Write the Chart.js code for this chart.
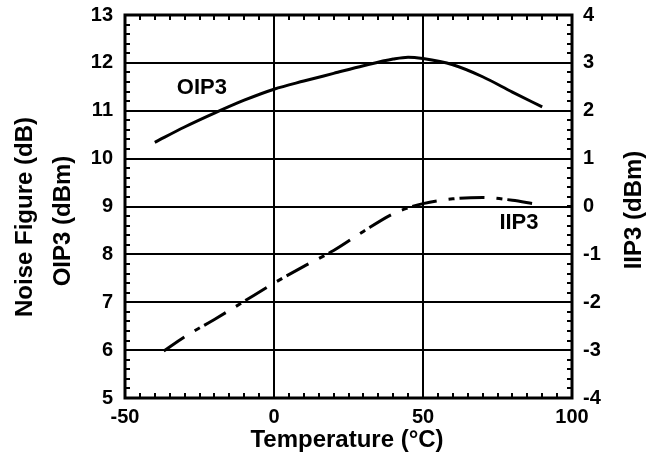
<!DOCTYPE html>
<html><head><meta charset="utf-8">
<script src="https://cdn.jsdelivr.net/npm/chart.js@4.4.0/dist/chart.umd.min.js"></script>
<style>html,body{margin:0;padding:0;background:#fff}#wrap{width:654px;height:463px;position:relative}</style>
</head><body><div id="wrap"><canvas id="c"></canvas></div>
<script>
// ---- data ----
const tempOIP3 = [-40, -30, -20, -10, 0, 10, 20, 30, 40, 45, 50, 60, 70, 80, 90];
const oip3Values = [10.34, 10.66, 10.95, 11.22, 11.45, 11.62, 11.78, 11.94, 12.08, 12.12, 12.09, 11.96, 11.71, 11.39, 11.08];
const tempIIP3 = [-37, -30, -20, -10, 0, 10, 20, 30, 40, 45, 50, 60, 70, 80, 87];
const iip3Values = [-3.02, -2.72, -2.36, -1.98, -1.60, -1.25, -0.92, -0.52, -0.15, -0.03, 0.06, 0.16, 0.19, 0.13, 0.06];
const xTickLabels = [-50, 0, 50, 100];
const leftTickLabels = [5, 6, 7, 8, 9, 10, 11, 12, 13];
const rightTickLabels = [-4, -3, -2, -1, 0, 1, 2, 3, 4];
const xTitle = 'Temperature (°C)';
const leftTitles = ['Noise Figure (dB)', 'OIP3 (dBm)'];
const rightTitle = 'IIP3 (dBm)';
const seriesLabels = ['OIP3', 'IIP3'];

const FONT = '"Liberation Sans", Arial, sans-serif';
const toXY = (xs, ys) => xs.map((x, i) => ({x, y: ys[i]}));

const decor = {
  id: 'decor',
  afterDraw(chart) {
    const ctx = chart.ctx;
    const a = chart.chartArea;
    const sx = chart.scales.x, sy = chart.scales.y, sy2 = chart.scales.y2;
    ctx.save();
    ctx.strokeStyle = '#000';
    ctx.lineWidth = 2;
    ctx.beginPath();
    for (let v = xTickLabels[0]; v <= xTickLabels[xTickLabels.length - 1]; v += 5) {
      const px = Math.round(sx.getPixelForValue(v));
      ctx.moveTo(px, a.top); ctx.lineTo(px, a.top + 5);
      ctx.moveTo(px, a.bottom); ctx.lineTo(px, a.bottom - 5);
    }
    for (let v = leftTickLabels[0]; v <= leftTickLabels[leftTickLabels.length - 1] + 1e-9; v += 0.2) {
      const py = Math.round(sy.getPixelForValue(v));
      ctx.moveTo(a.left, py); ctx.lineTo(a.left + 5, py);
    }
    for (let v = rightTickLabels[0]; v <= rightTickLabels[rightTickLabels.length - 1] + 1e-9; v += 0.2) {
      const py = Math.round(sy2.getPixelForValue(v));
      ctx.moveTo(a.right, py); ctx.lineTo(a.right - 5, py);
    }
    ctx.stroke();
    ctx.lineWidth = 3;
    ctx.strokeRect(a.left, a.top, a.right - a.left, a.bottom - a.top);
    ctx.fillStyle = '#000';
    ctx.textAlign = 'center';
    ctx.textBaseline = 'middle';
    ctx.font = 'bold 22px ' + FONT;
    ctx.fillText(seriesLabels[0], sx.getPixelForValue(-24.2), sy.getPixelForValue(11.48));
    ctx.fillText(seriesLabels[1], sx.getPixelForValue(82.2), sy2.getPixelForValue(-0.34));
    ctx.font = 'bold 24px ' + FONT;
    ctx.fillText(xTitle, 347, 440);
    const rot = (t, x, y) => { ctx.save(); ctx.translate(x, y); ctx.rotate(-Math.PI / 2); ctx.fillText(t, 0, 0); ctx.restore(); };
    rot(leftTitles[0], 25, 217);
    rot(leftTitles[1], 63, 221);
    rot(rightTitle, 634, 210);
    ctx.restore();
  }
};

const tickFont = {family: FONT, size: 20, weight: 'bold'};

new Chart(document.getElementById('c'), {
  type: 'line',
  data: {
    datasets: [
      {
        label: seriesLabels[0],
        data: toXY(tempOIP3, oip3Values),
        yAxisID: 'y',
        borderColor: '#000',
        borderWidth: 3,
        pointRadius: 0,
        fill: false,
        cubicInterpolationMode: 'monotone'
      },
      {
        label: seriesLabels[1],
        data: toXY(tempIIP3, iip3Values),
        yAxisID: 'y2',
        borderColor: '#000',
        borderWidth: 3,
        borderDash: [25, 12, 6, 5],
        pointRadius: 0,
        fill: false,
        cubicInterpolationMode: 'monotone'
      }
    ]
  },
  options: {
    responsive: true,
    maintainAspectRatio: false,
    animation: false,
    devicePixelRatio: 1,
    layout: {padding: {top: 0, left: 0, right: 0, bottom: 0}},
    plugins: {legend: {display: false}, tooltip: {enabled: false}},
    scales: {
      x: {
        type: 'linear',
        min: xTickLabels[0], max: xTickLabels[xTickLabels.length - 1],
        afterBuildTicks: s => { s.ticks = xTickLabels.map(v => ({value: v})); },
        afterFit: s => { s.height = 65; s.paddingLeft = 0; s.paddingRight = 0; },
        ticks: {color: '#000', font: tickFont, padding: 7, maxRotation: 0, autoSkip: false},
        grid: {color: '#000', lineWidth: 2, drawTicks: false},
        border: {display: false}
      },
      y: {
        position: 'left',
        min: leftTickLabels[0], max: leftTickLabels[leftTickLabels.length - 1],
        afterBuildTicks: s => { s.ticks = leftTickLabels.map(v => ({value: v})); },
        afterFit: s => { s.width = 125; s.paddingTop = 15; s.paddingBottom = 0; },
        ticks: {color: '#000', font: tickFont, padding: 12, autoSkip: false},
        grid: {color: '#000', lineWidth: 2, drawTicks: false},
        border: {display: false}
      },
      y2: {
        position: 'right',
        min: rightTickLabels[0], max: rightTickLabels[rightTickLabels.length - 1],
        afterBuildTicks: s => { s.ticks = rightTickLabels.map(v => ({value: v})); },
        afterFit: s => { s.width = 82; s.paddingTop = 15; s.paddingBottom = 0; },
        ticks: {color: '#000', font: tickFont, padding: 11, autoSkip: false},
        grid: {drawOnChartArea: false, drawTicks: false},
        border: {display: false}
      }
    }
  },
  plugins: [decor]
});
</script></body></html>
